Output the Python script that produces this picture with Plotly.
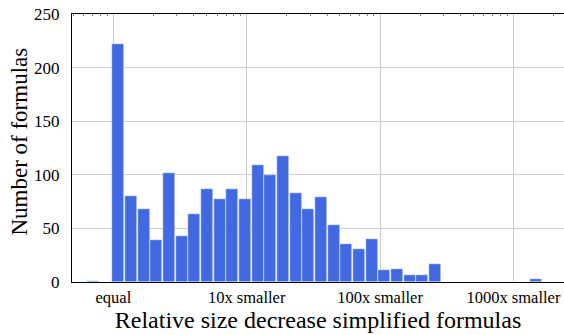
import plotly.graph_objects as go

# Histogram of relative size decrease (log10 scale bins)
bin_start = -0.2          # log10 of first bin's lower edge
bin_width = 0.095         # bin width in decades
counts = [1, 0, 222, 80, 68, 39, 102, 43, 63, 87, 77, 87, 77, 109, 100, 118,
          83, 68, 79, 53, 35, 31, 40, 11, 12, 7, 7, 17, 0, 0, 0, 0, 0, 0, 0, 3]
tick_vals = [0, 1, 2, 3]
tick_text = ["equal", "10x smaller", "100x smaller", "1000x smaller"]
y_ticks = [0, 50, 100, 150, 200, 250]

centers = [bin_start + bin_width * (i + 0.5) for i in range(len(counts))]

FONT = "Liberation Serif, Times New Roman, DejaVu Serif, serif"
x_range = [-0.31, 3.379]

fig = go.Figure()
fig.add_trace(go.Bar(
    x=centers, y=counts, width=bin_width * 0.95,
    marker=dict(color="#4169E1", line=dict(color="white", width=0.5)),
    showlegend=False,
))
# invisible trace to activate top log axis for minor ticks
fig.add_trace(go.Scatter(x=[10 ** x_range[0], 10 ** x_range[1]], y=[0, 0],
                         xaxis="x2", mode="lines", line=dict(width=0),
                         hoverinfo="skip", showlegend=False))

minor_vals = [m * 10 ** d for d in range(-1, 4) for m in range(2, 10)]

fig.update_layout(
    width=564, height=335,
    margin=dict(l=72, r=0, t=14, b=53, autoexpand=False),
    paper_bgcolor="white", plot_bgcolor="white",
    bargap=0,
    font=dict(family=FONT, size=16, color="black"),
    xaxis=dict(
        range=x_range, tickvals=tick_vals, ticktext=tick_text,
        showgrid=True, gridcolor="#cccccc", gridwidth=1,
        showline=True, linecolor="black", linewidth=1.3, mirror=True,
        ticks="", zeroline=False, automargin=False,
        tickfont=dict(family=FONT, size=16.5),
        title=dict(text="Relative size decrease simplified formulas",
                   font=dict(family=FONT, size=24), standoff=2),
    ),
    xaxis2=dict(
        type="log", overlaying="x", side="top",
        range=x_range, tickvals=minor_vals, showticklabels=False,
        ticks="inside", ticklen=2, tickcolor="#888888", tickwidth=1,
        showgrid=False, showline=False, zeroline=False,
    ),
    yaxis=dict(
        range=[0, 250], tickvals=y_ticks,
        showgrid=True, gridcolor="#cccccc", gridwidth=1,
        showline=True, linecolor="black", linewidth=1.3,
        ticks="", zeroline=False, ticklabelstandoff=8, automargin=False,
        tickfont=dict(family=FONT, size=17),
    ),
    annotations=[dict(
        text="Number of formulas", textangle=-90,
        xref="paper", yref="paper", x=0, y=0.524,
        xanchor="center", yanchor="middle", xshift=-52,
        showarrow=False, font=dict(family=FONT, size=23, color="black"),
    )],
)

fig.write_html("out.html", config={"displayModeBar": False},
               post_script="document.body.style.margin='0';")
